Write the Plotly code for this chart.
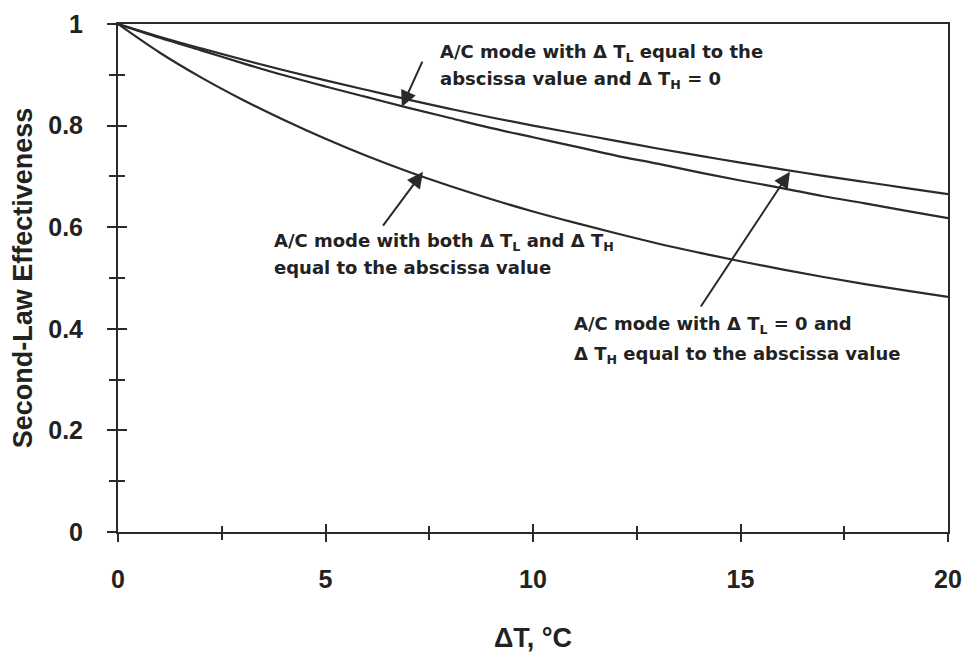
import plotly.graph_objects as go

# Data
delta_t = [0, 1, 2, 3, 4, 5, 6, 7, 8, 9, 10, 11, 12, 13, 14, 15, 16, 17, 18, 19, 20]
eff_dtl_only = [1.000, 0.975, 0.952, 0.930, 0.909, 0.889, 0.870, 0.851, 0.833, 0.816, 0.800,
                0.785, 0.770, 0.755, 0.741, 0.727, 0.714, 0.701, 0.689, 0.677, 0.665]
eff_dth_only = [1.000, 0.973, 0.948, 0.923, 0.899, 0.877, 0.856, 0.835, 0.815, 0.795, 0.777,
                0.759, 0.741, 0.725, 0.708, 0.692, 0.677, 0.661, 0.647, 0.632, 0.618]
eff_both = [1.000, 0.944, 0.895, 0.851, 0.811, 0.774, 0.740, 0.709, 0.681, 0.655, 0.631,
            0.609, 0.588, 0.568, 0.550, 0.533, 0.517, 0.502, 0.488, 0.475, 0.463]

x_ticks = [0, 5, 10, 15, 20]
y_ticks = [0, 0.2, 0.4, 0.6, 0.8, 1]
y_tick_labels = ["0", "0.2", "0.4", "0.6", "0.8", "1"]

LINE = "#2a2a2a"
TXT = "#222222"
tick_font = dict(family="Liberation Sans, Arial", size=25, color=TXT, weight="bold")
note_font = dict(family="DejaVu Sans", size=18, color=TXT, weight="bold")

fig = go.Figure()
for ys, ax_x, ax_y in [(eff_dtl_only, "x", "y"), (eff_dth_only, "x", "y"), (eff_both, "x2", "y2")]:
    fig.add_trace(go.Scatter(x=delta_t, y=ys, mode="lines", xaxis=ax_x, yaxis=ax_y,
                             line=dict(color=LINE, width=2.2, shape="spline"),
                             showlegend=False, hoverinfo="skip"))

fig.update_layout(
    width=966, height=655,
    margin=dict(l=118, r=18, t=24, b=123, autoexpand=False),
    paper_bgcolor="white", plot_bgcolor="white",
    xaxis=dict(range=[0, 20], tickvals=x_ticks, ticks="outside", ticklen=8, tickwidth=2,
               tickcolor=LINE, showline=True, linecolor=LINE, linewidth=2, mirror=True,
               showgrid=False, zeroline=False, tickfont=tick_font, ticklabelstandoff=16,
               automargin=False,
               minor=dict(tickvals=[2.5, 7.5, 12.5, 17.5], ticks="outside", ticklen=6,
                          tickwidth=2, tickcolor=LINE),
               title=dict(text="ΔT, °C", font=dict(family="Liberation Sans, Arial", size=27,
                                                  color=TXT, weight="bold"), standoff=36)),
    yaxis=dict(range=[0, 1], tickvals=y_ticks, ticktext=y_tick_labels, ticks="outside",
               ticklen=9, tickwidth=2, tickcolor=LINE, showline=True, linecolor=LINE,
               linewidth=2, mirror=True, showgrid=False, zeroline=False, tickfont=tick_font,
               ticklabelstandoff=19, automargin=False,
               minor=dict(tickvals=[0.1, 0.3, 0.5, 0.7, 0.9], ticks="outside", ticklen=7,
                          tickwidth=2, tickcolor=LINE),
               title=dict(text="Second-Law Effectiveness",
                          font=dict(family="Liberation Sans, Arial", size=27, color=TXT,
                                    weight="bold"), standoff=8)),
    xaxis2=dict(range=[0, 20], overlaying="x", anchor="y2", side="bottom", tickvals=x_ticks,
                ticks="inside", ticklen=8, tickwidth=2, tickcolor=LINE, showticklabels=False,
                showline=False, showgrid=False, zeroline=False, automargin=False,
                minor=dict(tickvals=[2.5, 7.5, 12.5, 17.5], ticks="inside", ticklen=6,
                           tickwidth=2, tickcolor=LINE)),
    yaxis2=dict(range=[0, 1], overlaying="y", anchor="x2", side="left", tickvals=y_ticks,
                ticks="inside", ticklen=9, tickwidth=2, tickcolor=LINE, showticklabels=False,
                showline=False, showgrid=False, zeroline=False, automargin=False,
                minor=dict(tickvals=[0.1, 0.3, 0.5, 0.7, 0.9], ticks="inside", ticklen=7,
                           tickwidth=2, tickcolor=LINE)),
)

# Arrows (tip on curve, tail near text)
arrows = [
    (6.84, 0.837, 7.35, 0.929),
    (7.35, 0.709, 6.36, 0.600),
    (16.19, 0.709, 14.02, 0.441),
]
for x, y, tx, ty in arrows:
    fig.add_annotation(x=x, y=y, ax=tx, ay=ty, xref="x", yref="y", axref="x", ayref="y",
                       text="", showarrow=True, arrowhead=2, arrowsize=1.6, arrowwidth=2,
                       arrowcolor=LINE)

notes = [
    (7.71, 0.943, "A/C mode with Δ T<sub>L</sub> equal to the"),
    (7.71, 0.890, "abscissa value and Δ T<sub>H</sub> = 0"),
    (3.71, 0.571, "A/C mode with both Δ T<sub>L</sub> and Δ T<sub>H</sub>"),
    (3.71, 0.520, "equal to the abscissa value"),
    (10.94, 0.407, "A/C mode with Δ T<sub>L</sub> = 0 and"),
    (10.94, 0.348, "Δ T<sub>H</sub> equal to the abscissa value"),
]
for x, y, t in notes:
    fig.add_annotation(x=x, y=y, xref="x", yref="y", text=t, showarrow=False,
                       xanchor="left", yanchor="middle", font=note_font)

fig.write_html("out.html", config={"displayModeBar": False},
               post_script="document.body.style.margin='0';document.body.style.overflow='hidden';")
